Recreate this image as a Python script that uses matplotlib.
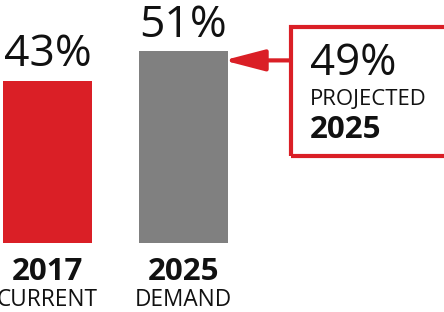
import matplotlib
matplotlib.use("Agg")
from matplotlib import pyplot as plt
from matplotlib.patches import Rectangle

# chart data
years = ["2017", "2025"]
subtitles = ["CURRENT", "DEMAND"]
values = [43, 51]
bar_colors = ["#DA1F26", "#808080"]
projected_value = 49
projected_label = "PROJECTED"
projected_year = "2025"

red = "#DA1F26"
plt.rcParams["font.family"] = ["Open Sans", "DejaVu Sans"]

fig = plt.figure(figsize=(4.44, 3.12), dpi=100)
ax = fig.add_axes([0, 0, 1, 1])
ax.set_xlim(-0.349, 2.915)
ax.set_ylim(-18.33, 64.54)
ax.axis("off")

x = list(range(len(values)))
ax.bar(x, values, width=0.654, color=bar_colors)

offsets = [4.0, 3.8]
for i, v in enumerate(values):
    ax.text(x[i], v + offsets[i], "%d%%" % v, ha="center", va="baseline",
            fontsize=32, color="#111111")
    ax.text(x[i], -9.8, years[i], ha="center", va="baseline",
            fontsize=22.5, fontweight="bold", color="#111111")
    # CURRENT runs off the left edge in the original too
    ax.text(x[i], -16.7, subtitles[i], ha="center", va="baseline",
            fontsize=16.3, color="#111111")

# callout box for projected value
box = Rectangle((1.787, 23.1), 1.3, 34.3, fill=False, edgecolor=red,
                linewidth=3, clip_on=False)
ax.add_patch(box)
ax.annotate("", xy=(1.295, projected_value - 0.5), xytext=(1.787, projected_value - 0.5),
            arrowprops=dict(arrowstyle="-|>,head_length=2.5,head_width=0.65",
                            color=red, lw=3, shrinkA=0, shrinkB=0))
ax.text(1.930, 44.6, "%d%%" % projected_value, ha="left", va="baseline",
        fontsize=31.5, color="#111111")
ax.text(1.930, 36.7, projected_label, ha="left", va="baseline",
        fontsize=15.9, color="#111111")
ax.text(1.930, 27.9, projected_year, ha="left", va="baseline",
        fontsize=22.5, fontweight="bold", color="#111111")

fig.savefig("out.png", dpi=100)
